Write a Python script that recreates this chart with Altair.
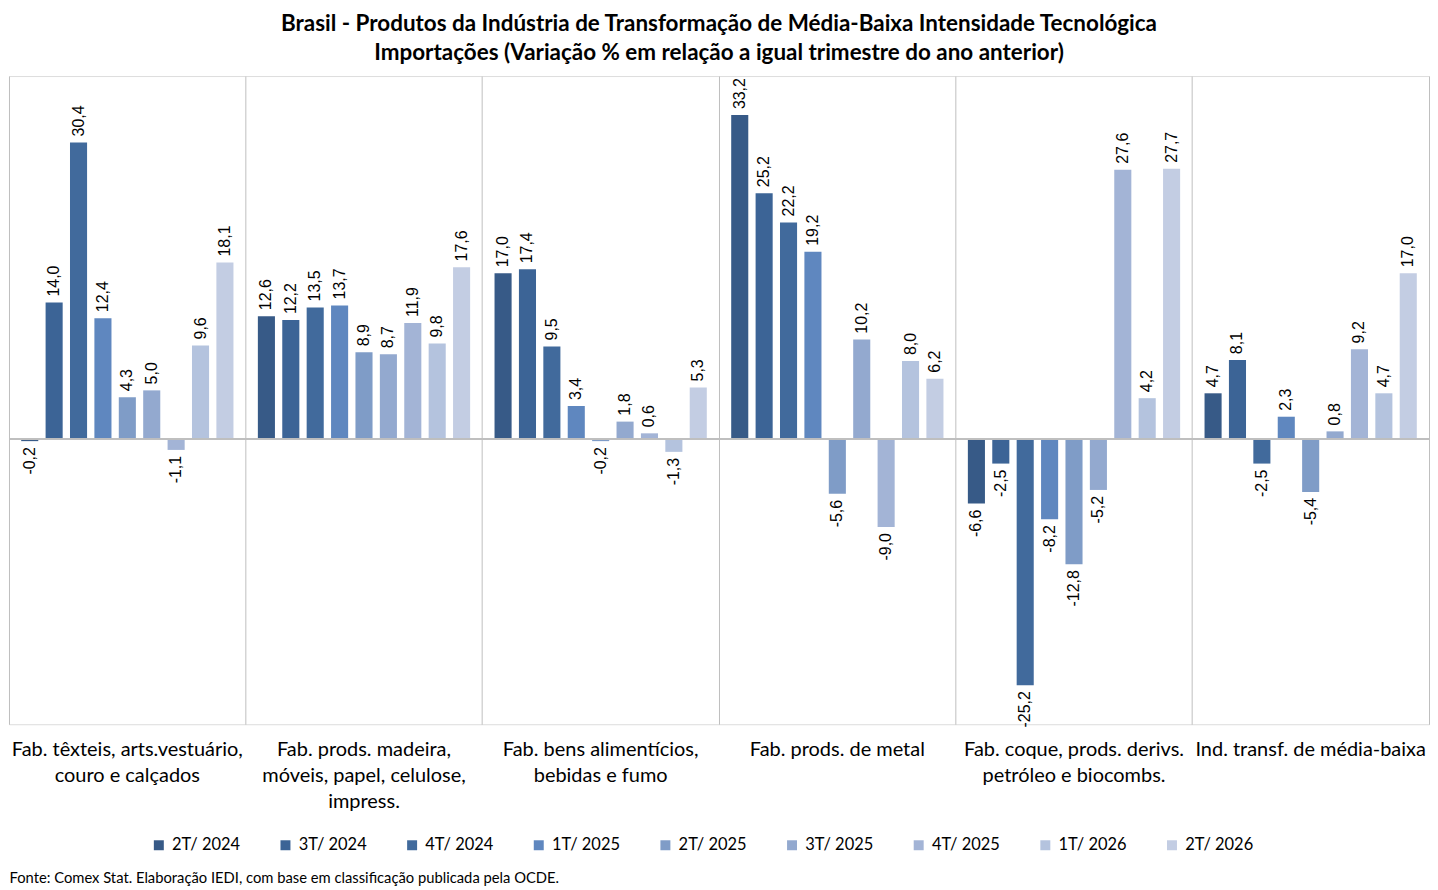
import altair as alt
import pandas as pd

categories = [
    "Fab. têxteis, arts.vestuário,|couro e calçados",
    "Fab. prods. madeira,|móveis, papel, celulose,|impress.",
    "Fab. bens alimentícios,|bebidas e fumo",
    "Fab. prods. de metal",
    "Fab. coque, prods. derivs.|petróleo e biocombs.",
    "Ind. transf. de média-baixa",
]
quarters = ["2T/ 2024", "3T/ 2024", "4T/ 2024", "1T/ 2025", "2T/ 2025",
            "3T/ 2025", "4T/ 2025", "1T/ 2026", "2T/ 2026"]
values = [
    [-0.2, 14.0, 30.4, 12.4, 4.3, 5.0, -1.1, 9.6, 18.1],
    [12.6, 12.2, 13.5, 13.7, 8.9, 8.7, 11.9, 9.8, 17.6],
    [17.0, 17.4, 9.5, 3.4, -0.2, 1.8, 0.6, -1.3, 5.3],
    [33.2, 25.2, 22.2, 19.2, -5.6, 10.2, -9.0, 8.0, 6.2],
    [-6.6, -2.5, -25.2, -8.2, -12.8, -5.2, 27.6, 4.2, 27.7],
    [4.7, 8.1, -2.5, 2.3, -5.4, 0.8, 9.2, 4.7, 17.0],
]
colors = ["#375a87", "#3c6496", "#416a9c", "#5f87bf", "#7f9cc7",
          "#93a9cf", "#a3b4d6", "#b4c3de", "#c3cde3"]

title_lines = [
    "Brasil - Produtos da Indústria de Transformação de Média-Baixa Intensidade Tecnológica",
    "Importações (Variação % em relação a igual trimestre do ano anterior)",
]
source = "Fonte: Comex Stat. Elaboração IEDI, com base em classificação publicada pela OCDE."

rows = []
for c, vals in zip(categories, values):
    for q, v in zip(quarters, vals):
        rows.append({"cat": c, "q": q, "v": v,
                     "lbl": f"{v:.1f}".replace(".", ",")})
df = pd.DataFrame(rows)

FONT = "Lato"
W, H = 1424, 650

x_enc = alt.X("cat:N", sort=categories,
              scale=alt.Scale(paddingInner=0, paddingOuter=0),
              axis=alt.Axis(title=source, labelExpr="split(datum.label, '|')",
                            labelAngle=0, labelFont=FONT, labelFontSize=20,
                            labelColor="#000000", labelLineHeight=26.5,
                            labelPadding=15, labelBaseline="top",
                            labelLimit=0,
                            ticks=False, domain=False,
                            grid=True, bandPosition=0, gridColor="#bfbfbf",
                            gridWidth=1,
                            titleFont=FONT, titleFontSize=14.8,
                            titleFontWeight="normal", titleColor="#000000",
                            titleAnchor="start", titleAlign="left",
                            titleBaseline="middle", titleX=0, titleY=155))
xo_enc = alt.XOffset("q:N", sort=quarters,
                     scale=alt.Scale(paddingInner=0.3, paddingOuter=0.5))
y_scale = alt.Scale(domain=[-29.2, 37.2], nice=False, zero=False)

bars = alt.Chart(df).mark_bar().encode(
    x=x_enc,
    xOffset=xo_enc,
    y=alt.Y("v:Q", scale=y_scale,
            axis=alt.Axis(orient="right", labels=False, ticks=False,
                          grid=False, title=None, domain=True,
                          domainColor="#bfbfbf", domainWidth=1)),
    color=alt.Color("q:N", sort=quarters,
                    scale=alt.Scale(domain=quarters, range=colors),
                    legend=alt.Legend(title=None, orient="none",
                                      direction="horizontal", columns=9,
                                      legendX=142, legendY=763,
                                      symbolType="square", symbolSize=100,
                                      symbolStrokeWidth=0, labelOffset=5,
                                      labelFont=FONT, labelFontSize=16.5,
                                      labelColor="#000000",
                                      columnPadding=37, gridAlign="all")),
)

zero = alt.Chart(df).mark_rule(color="#bfbfbf", strokeWidth=1).encode(
    y=alt.datum(0, scale=y_scale)
)

pos = alt.Chart(df).transform_filter("datum.v >= 0").mark_text(
    angle=270, align="left", baseline="middle", dx=6,
    font="Liberation Sans", fontSize=16, color="#000000"
).encode(x=alt.X("cat:N", sort=categories), xOffset=xo_enc,
         y=alt.Y("v:Q", scale=y_scale), text="lbl:N")

neg = alt.Chart(df).transform_filter("datum.v < 0").mark_text(
    angle=270, align="right", baseline="middle", dx=-6,
    font="Liberation Sans", fontSize=16, color="#000000"
).encode(x=alt.X("cat:N", sort=categories), xOffset=xo_enc,
         y=alt.Y("v:Q", scale=y_scale), text="lbl:N")

chart = alt.layer(bars, zero, pos, neg).properties(
    width=W, height=H,
    padding={"left": 0, "top": 3, "right": 0, "bottom": 0},
    title=alt.TitleParams(text=title_lines, font=FONT, fontSize=22.5,
                          fontWeight="bold", color="#000000",
                          lineHeight=29, offset=12, anchor="middle"),
).configure_view(stroke=None).configure(background="#ffffff")

chart.save("out.html", embed_options={"renderer": "svg", "actions": False})
